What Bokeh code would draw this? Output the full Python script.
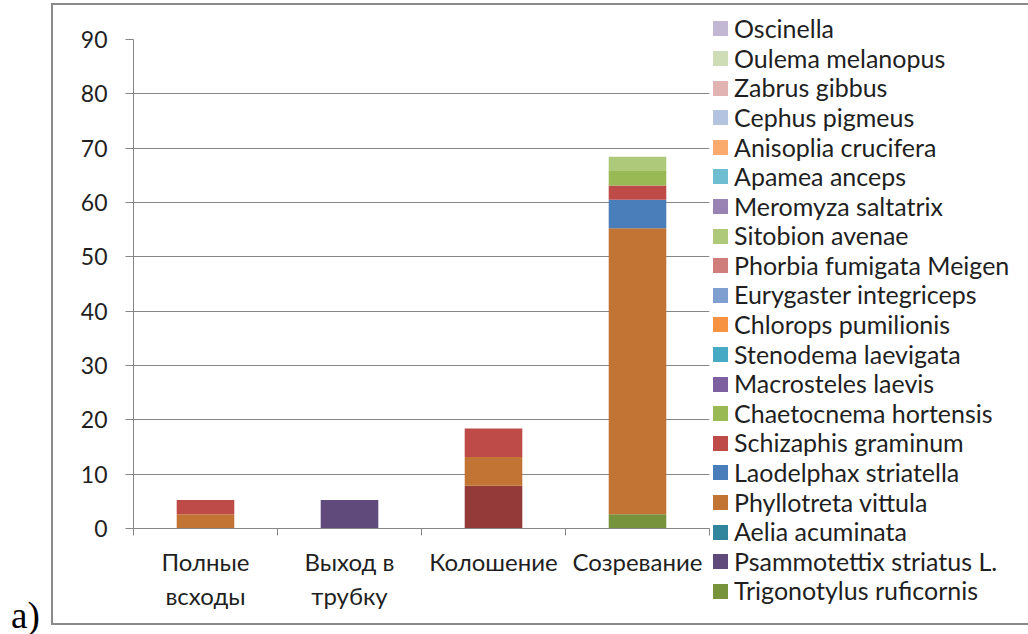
from bokeh.plotting import figure
from bokeh.models import ColumnDataSource, Range1d, FixedTicker, Div
from bokeh.layouts import row
from bokeh.embed import file_html
from bokeh.resources import INLINE

categories = ["Полные\nвсходы", "Выход в\nтрубку", "Колошение", "Созревание"]

# series in stacking order (bottom -> top); first one has no legend entry in the picture
series_names = [
    "unlabeled",
    "Trigonotylus ruficornis",
    "Psammotettix striatus L.",
    "Aelia acuminata",
    "Phyllotreta vittula",
    "Laodelphax striatella",
    "Schizaphis graminum",
    "Chaetocnema hortensis",
    "Macrosteles laevis",
    "Stenodema laevigata",
    "Chlorops pumilionis",
    "Eurygaster integriceps",
    "Phorbia fumigata Meigen",
    "Sitobion avenae",
    "Meromyza saltatrix",
    "Apamea anceps",
    "Anisoplia crucifera",
    "Cephus pigmeus",
    "Zabrus gibbus",
    "Oulema melanopus",
    "Oscinella",
]

unlabeled = [0, 0, 7.89, 0]
trigonotylus = [0, 0, 0, 2.63]
psammotettix = [0, 5.26, 0, 0]
aelia = [0, 0, 0, 0]
phyllotreta = [2.63, 0, 5.26, 52.63]
laodelphax = [0, 0, 0, 5.26]
schizaphis = [2.63, 0, 5.26, 2.63]
chaetocnema = [0, 0, 0, 2.63]
macrosteles = [0, 0, 0, 0]
stenodema = [0, 0, 0, 0]
chlorops = [0, 0, 0, 0]
eurygaster = [0, 0, 0, 0]
phorbia = [0, 0, 0, 0]
sitobion = [0, 0, 0, 2.63]
meromyza = [0, 0, 0, 0]
apamea = [0, 0, 0, 0]
anisoplia = [0, 0, 0, 0]
cephus = [0, 0, 0, 0]
zabrus = [0, 0, 0, 0]
oulema = [0, 0, 0, 0]
oscinella = [0, 0, 0, 0]

series_values = [unlabeled, trigonotylus, psammotettix, aelia, phyllotreta, laodelphax,
                 schizaphis, chaetocnema, macrosteles, stenodema, chlorops, eurygaster,
                 phorbia, sitobion, meromyza, apamea, anisoplia, cephus, zabrus, oulema,
                 oscinella]

colors = ["#943A38", "#77933C", "#604A7B", "#31859C", "#C27434", "#4A7EBB",
          "#BE4B48", "#98B954", "#7D60A0", "#46AAC5", "#F69240", "#7F9FD0",
          "#CF7E7C", "#AFC97A", "#9983B5", "#6FBDD1", "#F9AA6C", "#B4C3DF",
          "#E1B4B3", "#CEDDB5", "#C2B8D3"]

y_ticks = [0, 10, 20, 30, 40, 50, 60, 70, 80, 90]

FONT = "Lato"
TXT = "#1f1f1f"
GREY = "#868686"
BORDER = "2px solid #8a8a8a"

keys = [f"s{i}" for i in range(len(series_names))]
data = {"x": [i + 0.5 for i in range(len(categories))]}
for k, v in zip(keys, series_values):
    data[k] = v
source = ColumnDataSource(data)

# ---------------- main chart ----------------
p = figure(width=659, height=622, x_range=Range1d(0, len(categories)),
           y_range=Range1d(0, 90), output_backend="svg", toolbar_location=None,
           min_border_left=80, min_border_right=3, min_border_top=34,
           min_border_bottom=99, margin=(3, 0, 0, 0),
           styles={"border-left": BORDER, "border-top": BORDER,
                   "border-bottom": BORDER})
p.outline_line_color = None
p.background_fill_color = "white"
p.border_fill_color = "white"

renderers = p.vbar_stack(keys, x="x", width=0.4, source=source, color=colors,
                         line_color=None)

p.xgrid.visible = False
p.ygrid.grid_line_color = GREY
p.ygrid.ticker = FixedTicker(ticks=y_ticks)

ya = p.yaxis[0]
ya.ticker = FixedTicker(ticks=y_ticks, minor_ticks=[])
ya.axis_line_color = GREY
ya.major_tick_line_color = GREY
ya.major_tick_out = 8
ya.major_tick_in = 0
ya.minor_tick_line_color = None
ya.major_label_standoff = 18
ya.major_label_text_font = FONT
ya.major_label_text_font_size = "23px"
ya.major_label_text_color = TXT

xa = p.xaxis[0]
centers = [i + 0.5 for i in range(len(categories))]
xa.ticker = FixedTicker(ticks=centers, minor_ticks=list(range(len(categories) + 1)))
xa.major_label_overrides = {c: lab for c, lab in zip(centers, categories)}
xa.axis_line_color = GREY
xa.major_tick_line_color = None
xa.major_tick_out = 0
xa.major_tick_in = 0
xa.minor_tick_line_color = GREY
xa.minor_tick_out = 7
xa.minor_tick_in = 0
xa.major_label_standoff = 11
xa.major_label_text_font = FONT
xa.major_label_text_font_size = "24px"
xa.major_label_text_color = TXT
xa.major_label_text_line_height = 1.18

# ---------------- legend (reverse series order, unlabeled series omitted) ----------------
rows_html = []
for i in range(len(series_names) - 1, 0, -1):
    rows_html.append(
        '<div style="height:29.6px;display:flex;align-items:center;white-space:nowrap">'
        f'<span style="display:inline-block;flex:none;width:15px;height:15px;'
        f'background:{colors[i]};margin-right:6px"></span>'
        f'<span>{series_names[i]}</span></div>')
legend_div = Div(
    text=('<div style="padding-top:9.2px;padding-left:3px;font-family:Lato;'
          f'font-size:25px;color:{TXT}">' + "".join(rows_html) + '</div>'),
    width=318, height=622, margin=(3, 0, 0, 0),
    styles={"border-top": BORDER, "border-bottom": BORDER, "background": "white"})

tag = Div(text='<div style="padding-top:596px;padding-left:6px;'
               'font-family:\'Liberation Serif\';font-size:37px;line-height:29px;'
               'color:black">a)</div>',
          width=41, height=632)

layout = row(tag, p, legend_div, spacing=0)

open("out.html", "w").write(file_html(layout, INLINE))
